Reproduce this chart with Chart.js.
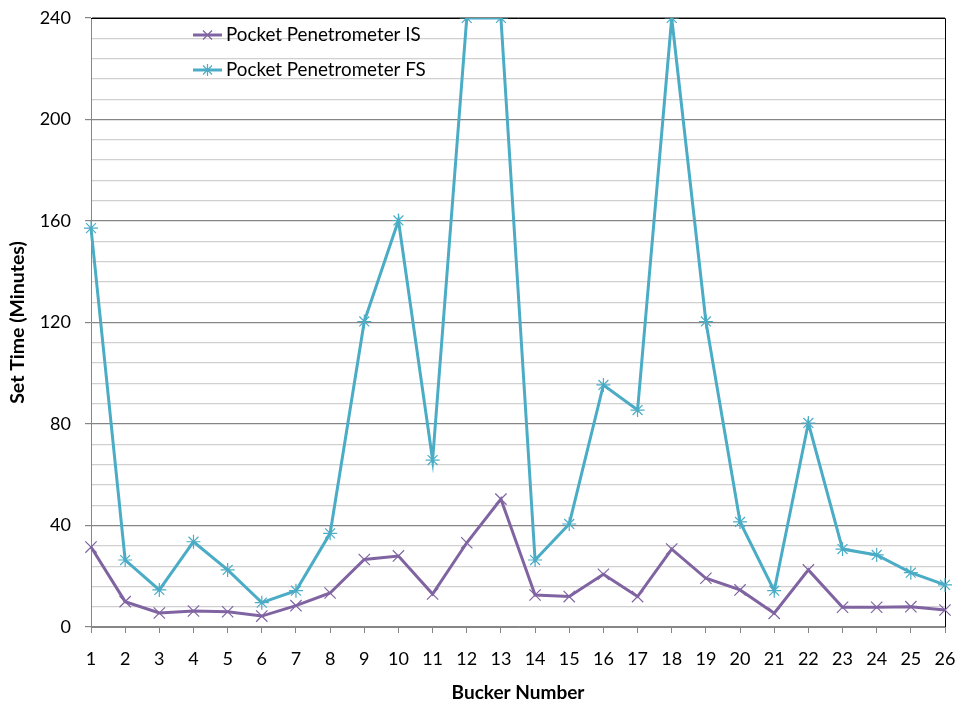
<!DOCTYPE html>
<html>
<head>
<meta charset="utf-8">
<script src="https://cdn.jsdelivr.net/npm/chart.js@4/dist/chart.umd.min.js"></script>
<style>
html,body{margin:0;padding:0;background:#fff;}
#wrap{width:961px;height:710px;}
</style>
</head>
<body>
<div id="wrap"><canvas id="c" width="961" height="710"></canvas></div>
<script>
const categories = ["1","2","3","4","5","6","7","8","9","10","11","12","13","14","15","16","17","18","19","20","21","22","23","24","25","26"];
const isValues = [31.5,10,5.5,6.3,6,4.3,8.4,13.4,26.6,28,13,33.2,50.4,12.6,12,20.8,12,30.7,19.2,14.6,5.4,22.5,7.8,7.8,8,6.7];
const fsValues = [157.2,26.4,14.6,33.6,22.5,9.6,14.3,36.9,120.4,160.2,65.8,240,240,26.4,40.6,95.4,85.5,240,120.4,41.4,14.3,80.4,30.7,28.4,21.4,16.6];
const seriesLabels = ["Pocket Penetrometer IS","Pocket Penetrometer FS"];
const yTitle = "Set Time (Minutes)";
const xTitle = "Bucker Number";
const FONT = "Lato, 'Open Sans', sans-serif";

const legendPlugin = {
  id: 'insideLegend',
  afterDraw(chart) {
    const ctx = chart.ctx;
    const items = chart.data.datasets;
    const x0 = 193, ys = [35, 70];
    items.forEach((ds, i) => {
      const y = ys[i];
      ctx.save();
      ctx.strokeStyle = ds.borderColor;
      ctx.lineWidth = 3;
      ctx.beginPath(); ctx.moveTo(x0, y); ctx.lineTo(x0 + 29, y); ctx.stroke();
      const r = 6, cx = x0 + 14.5;
      ctx.lineWidth = 1.2;
      ctx.beginPath();
      if (ds.pointStyle === 'star') {
        ctx.moveTo(cx, y - r); ctx.lineTo(cx, y + r);
      }
      const d = r * 0.75;
      ctx.moveTo(cx - d, y - d); ctx.lineTo(cx + d, y + d);
      ctx.moveTo(cx - d, y + d); ctx.lineTo(cx + d, y - d);
      ctx.stroke();
      ctx.fillStyle = '#000';
      ctx.font = "18.8px " + FONT;
      ctx.textBaseline = 'middle';
      ctx.textAlign = 'left';
      ctx.fillText(ds.label, x0 + 33, y);
      ctx.restore();
    });
  }
};

const borderPlugin = {
  id: 'plotBorder',
  beforeDatasetsDraw(chart) {
    const a = chart.chartArea, ctx = chart.ctx;
    ctx.save();
    ctx.strokeStyle = '#000';
    ctx.lineWidth = 1;
    ctx.beginPath();
    ctx.moveTo(a.left, a.top + 0.5); ctx.lineTo(a.right + 0.5, a.top + 0.5); ctx.lineTo(a.right + 0.5, a.bottom);
    ctx.stroke();
    ctx.restore();
  }
};

new Chart(document.getElementById('c'), {
  type: 'line',
  data: {
    labels: categories,
    datasets: [
      {label: seriesLabels[0], data: isValues, borderColor: '#8064A2', backgroundColor: '#8064A2',
       borderWidth: 3, pointStyle: 'crossRot', pointRadius: 8, pointBorderWidth: 1.2, tension: 0},
      {label: seriesLabels[1], data: fsValues, borderColor: '#4BACC6', backgroundColor: '#4BACC6',
       borderWidth: 3, pointStyle: 'star', pointRadius: 7, pointBorderWidth: 1.2, tension: 0}
    ]
  },
  options: {
    responsive: false,
    animation: false,
    layout: {padding: {left: 0, top: 18, right: 16, bottom: 0}},
    plugins: {legend: {display: false}, tooltip: {enabled: false}},
    scales: {
      x: {
        offset: false,
        grid: {drawOnChartArea: false, tickLength: 6, color: '#868686'},
        border: {color: '#868686'},
        ticks: {color: '#000', font: {size: 18, family: FONT}, padding: 15, maxRotation: 0, autoSkip: false},
        title: {display: true, text: xTitle, color: '#000', font: {size: 19, weight: 'bold', family: FONT}, padding: {top: 4, bottom: 6}},
        afterFit(s) { s.height = 83; s.paddingLeft = 0; s.paddingRight = 0; }
      },
      y: {
        min: 0, max: 240,
        ticks: {stepSize: 8, autoSkip: false, color: '#000', font: {size: 18, family: FONT}, padding: 14,
          callback: (v) => (v % 40 === 0 ? String(v) : '')},
        grid: {
          color: (c) => (c.tick && c.tick.value % 40 === 0 ? '#868686' : '#d0d0d0'),
          tickColor: (c) => (c.tick && c.tick.value % 40 === 0 ? '#868686' : 'rgba(0,0,0,0)'),
          tickLength: 6, lineWidth: 1.2
        },
        border: {color: '#868686'},
        title: {display: true, text: yTitle, color: '#000', font: {size: 19.5, weight: 'bold', family: FONT}, padding: {top: 6, bottom: 4}},
        afterFit(s) { s.width = 91; s.paddingTop = 0; s.paddingBottom = 0; }
      }
    }
  },
  plugins: [borderPlugin, legendPlugin]
});
</script>
</body>
</html>
